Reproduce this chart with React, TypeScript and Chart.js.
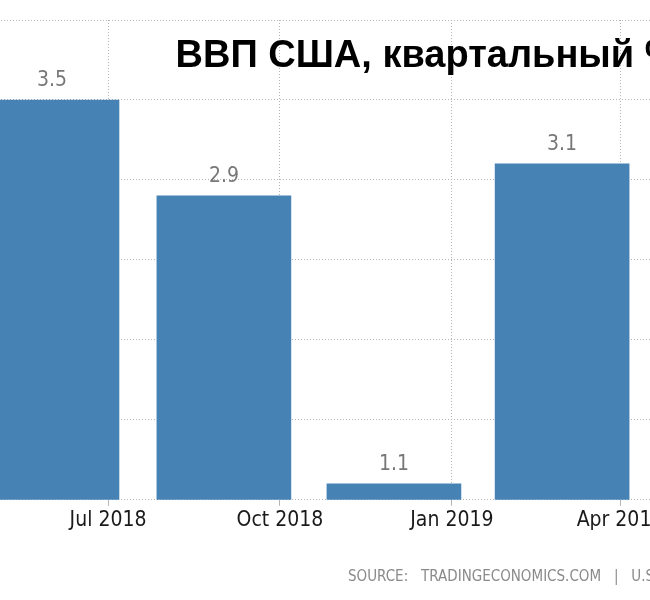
import { useEffect, useRef } from "react";
import { Chart, registerables } from "chart.js";
import type { Plugin } from "chart.js";

Chart.register(...registerables);

// Quarterly US GDP growth, % (annualised), bars dated at the middle month's start
const quarters = ["Q2 2018", "Q3 2018", "Q4 2018", "Q1 2019"];
const barDates = ["2018-06-01", "2018-09-01", "2018-12-01", "2019-03-01"];
const gdpGrowth = [3.5, 2.9, 1.1, 3.1];

const tickDates = ["2018-07-01", "2018-10-01", "2019-01-01", "2019-04-01"];
const tickLabels = ["Jul 2018", "Oct 2018", "Jan 2019", "Apr 2019"];

const Y_MIN = 1;
const Y_MAX = 4;
const Y_STEP = 0.5;

const TITLE = "ВВП США, квартальный %";
const SOURCE = "SOURCE:   TRADINGECONOMICS.COM   |   U.S. BUREAU OF ECONOMIC ANALYSIS";

const NARROW = "'DejaVu Sans Condensed', 'Liberation Sans Narrow', 'DejaVu Sans', sans-serif";

// the picture is a crop of a wider chart
const CANVAS_W = 978;
const CANVAS_H = 600;
const SHIFT = 62;
const PAD_RIGHT = 60;
const PX_PER_DAY = 1.8686;

const toDays = (s: string) => Date.parse(s) / 86400000;
const X_MIN = toDays("2018-04-01");
const X_MAX = X_MIN + (CANVAS_W - PAD_RIGHT) / PX_PER_DAY;

const valueLabels: Plugin<"bar"> = {
  id: "valueLabels",
  afterDatasetsDraw(chart) {
    const { ctx } = chart;
    const meta = chart.getDatasetMeta(0);
    ctx.save();
    ctx.font = `21px ${NARROW}`;
    ctx.fillStyle = "#777777";
    ctx.textAlign = "center";
    ctx.textBaseline = "alphabetic";
    meta.data.forEach((bar, i) => {
      ctx.fillText(gdpGrowth[i].toFixed(1), bar.x, bar.y - 14);
    });
    ctx.restore();
  },
};

const texts: Plugin<"bar"> = {
  id: "texts",
  afterDraw(chart) {
    const { ctx } = chart;
    ctx.save();
    ctx.font = "bold 38px 'Liberation Sans', Arial, sans-serif";
    ctx.fillStyle = "#000000";
    ctx.textAlign = "center";
    ctx.textBaseline = "alphabetic";
    ctx.fillText(TITLE, chart.width / 2, 67);

    ctx.font = `15px ${NARROW}`;
    ctx.fillStyle = "#8a8a8a";
    ctx.textAlign = "left";
    ctx.fillText(SOURCE, 410, 581);
    ctx.restore();
  },
};

export default function App() {
  const canvasRef = useRef<HTMLCanvasElement | null>(null);

  useEffect(() => {
    if (!canvasRef.current) return;
    const chart = new Chart(canvasRef.current, {
      type: "bar",
      data: {
        labels: quarters,
        datasets: [
          {
            label: "GDP growth",
            data: barDates.map((d, i) => ({ x: toDays(d), y: gdpGrowth[i] })),
            backgroundColor: "#4682b4",
            borderWidth: 0,
            barThickness: 134,
          },
        ],
      },
      options: {
        responsive: false,
        animation: false,
        layout: { padding: { top: 20, right: PAD_RIGHT, bottom: 65, left: 0 } },
        plugins: {
          legend: { display: false },
          tooltip: { enabled: false },
        },
        scales: {
          x: {
            type: "linear",
            min: X_MIN,
            max: X_MAX,
            offset: false,
            afterBuildTicks: (scale) => {
              scale.ticks = tickDates.map((d) => ({ value: toDays(d) }));
            },
            ticks: {
              autoSkip: false,
              maxRotation: 0,
              padding: 2,
              color: "#1a1a1a",
              font: { family: NARROW, size: 21 },
              callback: (value) => {
                const i = tickDates.findIndex((d) => toDays(d) === value);
                return i >= 0 ? tickLabels[i] : "";
              },
            },
            grid: {
              offset: false,
              color: "#b4b4b4",
              tickLength: 6,
              tickColor: "#b4b4b4",
              tickBorderDash: [],
            },
            border: { display: false, dash: [1, 2] },
          },
          y: {
            position: "right",
            min: Y_MIN,
            max: Y_MAX,
            ticks: { display: false, stepSize: Y_STEP },
            grid: { color: "#b4b4b4", drawTicks: false },
            border: { display: false, dash: [1, 2] },
          },
        },
      },
      plugins: [valueLabels, texts],
    });
    return () => chart.destroy();
  }, []);

  return (
    <div
      style={{
        position: "fixed",
        left: 0,
        top: 0,
        width: 650,
        height: 600,
        overflow: "hidden",
        background: "#ffffff",
      }}
    >
      <canvas
        ref={canvasRef}
        width={CANVAS_W}
        height={CANVAS_H}
        style={{ position: "absolute", left: -SHIFT, top: 0 }}
      />
    </div>
  );
}
